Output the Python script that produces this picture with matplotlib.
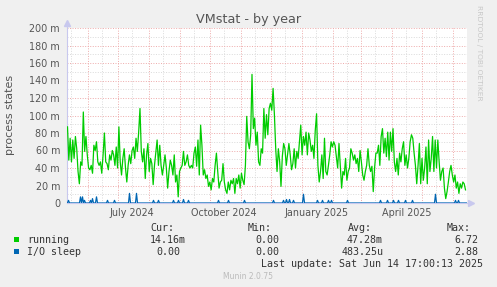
import numpy as np
import matplotlib.pyplot as plt
import matplotlib.dates as mdates
from matplotlib.patches import Rectangle
from matplotlib.ticker import FuncFormatter, MultipleLocator, FixedLocator, NullFormatter
from datetime import datetime, timedelta

# --- data (values in milli "m") ---
end_time = datetime(2025, 6, 14, 17, 0, 13)
span_days = 400

running = [
    87, 49, 74, 47, 72, 51, 76, 62, 36, 22, 47, 43, 104, 59, 76, 55, 40, 38, 43, 34,
    66, 60, 70, 47, 43, 47, 34, 55, 80, 47, 45, 38, 55, 49, 60, 55, 43, 64, 40, 87,
    47, 32, 51, 62, 40, 24, 43, 55, 45, 60, 64, 51, 74, 59, 81, 108, 59, 47, 62, 28,
    55, 68, 36, 51, 45, 21, 43, 57, 72, 43, 66, 43, 32, 43, 55, 40, 17, 36, 49, 43,
    32, 55, 24, 32, 7, 36, 40, 43, 59, 43, 47, 55, 43, 40, 43, 40, 57, 64, 42, 72,
    32, 89, 66,
    32, 38, 28, 32, 19, 24, 15, 28, 24, 43, 57, 36, 17, 24, 26, 45, 24, 15, 11, 24,
    15, 26, 22, 28, 11, 28, 22, 32, 17, 34, 26, 21, 43, 99, 70, 62, 78, 147, 85, 97,
    66, 81, 47, 43, 62, 57, 108, 74, 101, 78, 108, 114, 106, 131, 101, 62, 36, 62, 47, 19,
    53, 68, 62, 43, 55, 68, 55, 38, 45, 62, 40, 59, 51, 70, 89, 55, 76, 66, 81, 55,
    80, 72, 59, 66, 51, 83, 102, 43, 24, 36, 55, 28, 74, 36, 32, 43, 55, 70, 64, 70,
    66,
    53, 40, 68, 43, 17, 36, 32, 51, 26, 36, 40, 62, 57, 49, 55, 45, 51, 36, 60, 47,
    32, 26, 36, 43, 62, 43, 36, 42, 13, 40, 57, 57, 66, 43, 76, 85, 57, 74, 53, 81,
    49, 81, 59, 85, 47, 36, 51, 32, 57, 47, 62, 70, 43, 55, 40, 51, 70, 78, 74, 57,
    43, 22, 43, 68, 22, 51, 26, 40, 64, 22, 72, 36, 51, 76, 36, 72, 40, 72, 47, 26,
    36, 40, 17, 5, 13, 24, 36, 43, 32, 24, 32, 17, 24, 11, 22, 17, 24, 22, 15,
]

# I/O sleep: spikes (day offset from graph start, value), zero elsewhere
io_days = [1, 13, 15, 17, 23, 25, 29, 40, 47, 62, 69, 86, 91, 106, 111, 116, 121,
           151, 161, 177, 206, 216, 219, 222, 226, 236, 250, 255, 261, 264, 280,
           313, 320, 326, 331, 338, 345, 368, 388, 391]
io_vals = [3, 7, 7, 3, 3, 5, 7, 3, 3, 11, 11, 3, 3, 3, 3, 4, 3,
           3, 3, 3, 3, 3, 4, 4, 3, 10, 3, 3, 3, 3, 3,
           3, 3, 3, 3, 3, 3, 10, 3, 3]

legend_rows = [
    ('running', '#00cc00', '14.16m', '0.00', '47.28m', '6.72'),
    ('I/O sleep', '#0066b3', '0.00', '0.00', '483.25u', '2.88'),
]

# --- figure ---
W, H = 497, 287
fig = plt.figure(figsize=(W / 100, H / 100), dpi=100, facecolor='#f0f0f0')


def fx(x):
    return x / W


def fy(y):
    return 1 - y / H


start_time = end_time - timedelta(days=span_days)
t0 = mdates.date2num(start_time)
t1 = mdates.date2num(end_time)

ax = fig.add_axes([fx(67), fy(203), 400 / W, 175 / H])
ax.set_facecolor('white')

run_x = t0 + np.linspace(0.5, 398.5, len(running))
io_series = np.zeros(span_days)
io_series[io_days] = io_vals
io_x = t0 + np.arange(span_days) + 0.5

ax.plot(run_x, running, color='#00cc00', lw=0.9, zorder=3)
ax.plot(io_x, io_series, color='#0066b3', lw=0.9, zorder=4)

ax.set_xlim(t0, t1)
ax.set_ylim(0, 200)

# grid
ax.xaxis.set_major_locator(mdates.MonthLocator(bymonthday=1))
ax.xaxis.set_minor_locator(mdates.MonthLocator(bymonthday=15))
ax.xaxis.set_major_formatter(NullFormatter())


def month_label(v, pos):
    d = mdates.num2date(v)
    return d.strftime('%B %Y') if d.month in (1, 4, 7, 10) else ''


ax.xaxis.set_minor_formatter(FuncFormatter(month_label))
ax.yaxis.set_major_locator(MultipleLocator(20))
ax.yaxis.set_minor_locator(FixedLocator(np.arange(10, 200, 20)))
ax.yaxis.set_major_formatter(FuncFormatter(lambda v, p: f'{int(v)} m' if v else '0'))

ax.grid(which='minor', color='#dadada', lw=0.7, ls=(0, (1, 1.6)), zorder=1)
ax.grid(which='major', color='#eeaaaa', lw=0.7, ls=(0, (1, 1.6)), zorder=2)
ax.set_axisbelow(True)

ax.tick_params(which='both', length=0, labelsize=6.9, colors='#555555')
ax.tick_params(axis='y', pad=5)
ax.tick_params(axis='x', which='minor', pad=3.5)

for s in ax.spines.values():
    s.set_visible(False)

axis_col = '#c8c8ee'
ax.plot([0, 0], [0, 1.03], color=axis_col, lw=0.8, transform=ax.transAxes, clip_on=False, zorder=2)
ax.plot([0, 1.01], [0, 0], color=axis_col, lw=0.8, transform=ax.transAxes, clip_on=False, zorder=2)
ax.plot(0, 1.03, marker='^', ms=4, color=axis_col, transform=ax.transAxes, clip_on=False)
ax.plot(1.01, 0, marker='>', ms=4, color=axis_col, transform=ax.transAxes, clip_on=False)

# text
fig.text(fx(249), fy(19), 'VMstat - by year', ha='center', va='center', fontsize=9.2, color='#555555')
fig.text(fx(10), fy(115), 'process states', rotation=90, ha='center', va='center',
         fontsize=8, color='#555555')
fig.text(fx(479), fy(53), 'RRDTOOL / TOBI OETIKER', rotation=270, ha='center', va='center',
         fontsize=5.4, color='#c8c8c8')

mono = dict(family='DejaVu Sans Mono', fontsize=7.2, color='#333333', va='center')
for txt, x in zip(['Cur:', 'Min:', 'Avg:', 'Max:'], [150, 248, 348, 447]):
    fig.text(fx(x), fy(228.3), txt, **mono)

row_y = [239.7, 251.7]
cols = [[150, 156], [255, 255], [347, 342], [454, 454]]
for i, (name, col, cur, mn, avg, mx) in enumerate(legend_rows):
    y = row_y[i]
    fig.patches.append(Rectangle((fx(14), fy(y + 2.5)), 5 / W, 5 / H, transform=fig.transFigure,
                                 facecolor=col, edgecolor='none'))
    fig.text(fx(27), fy(y), name, **mono)
    for j, val in enumerate([cur, mn, avg, mx]):
        fig.text(fx(cols[j][i]), fy(y), val, **mono)

fig.text(fx(261), fy(263.7), 'Last update: Sat Jun 14 17:00:13 2025', **mono)
fig.text(fx(248), fy(276.3), 'Munin 2.0.75', ha='center', va='center', fontsize=5.5, color='#bbbbbb')

fig.savefig('out.png', dpi=100, facecolor=fig.get_facecolor())
